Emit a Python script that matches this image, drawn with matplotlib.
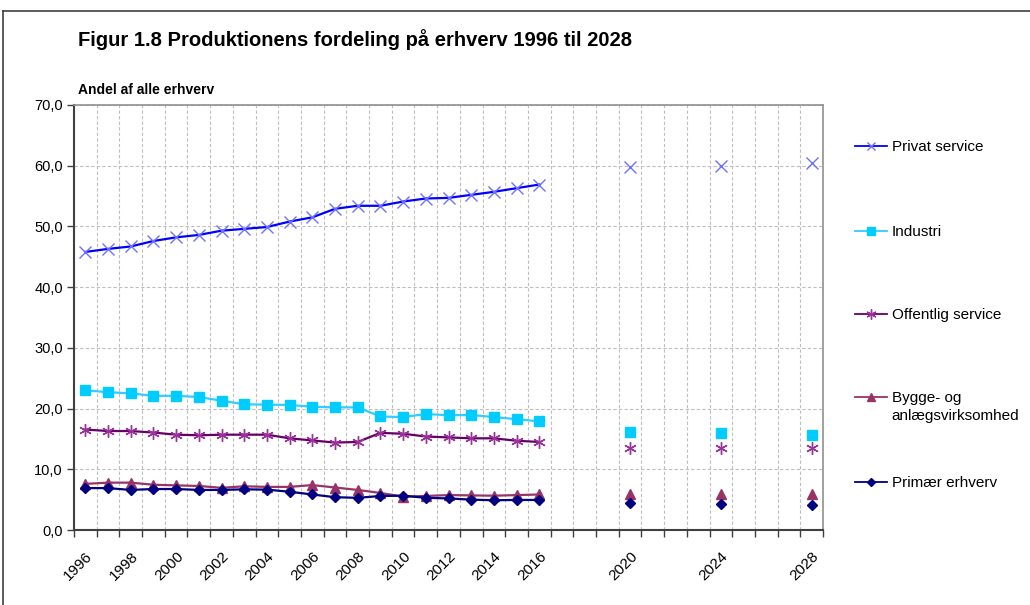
import numpy as np
import matplotlib
matplotlib.use("Agg")
import matplotlib.pyplot as plt
from matplotlib.lines import Line2D
from matplotlib.ticker import FixedLocator, FuncFormatter

plt.rcParams['font.family'] = ['Liberation Sans', 'DejaVu Sans']

# data
years_hist = list(range(1996, 2017))
years_proj = [2020, 2024, 2028]
tick_years = list(range(1996, 2017, 2)) + years_proj

privat = [45.8, 46.3, 46.7, 47.6, 48.2, 48.6, 49.3, 49.6, 49.9, 50.8, 51.5,
          52.9, 53.4, 53.4, 54.1, 54.6, 54.7, 55.2, 55.7, 56.3, 56.9]
privat_proj = [59.8, 60.0, 60.4]

industri = [23.0, 22.7, 22.5, 22.1, 22.1, 21.9, 21.3, 20.7, 20.65, 20.6, 20.3,
            20.2, 20.2, 18.7, 18.6, 19.1, 18.9, 18.95, 18.6, 18.25, 17.9]
industri_proj = [16.2, 15.95, 15.7]

offentlig = [16.55, 16.3, 16.3, 16.05, 15.7, 15.6, 15.7, 15.7, 15.7, 15.1, 14.75,
             14.4, 14.5, 16.0, 15.85, 15.4, 15.25, 15.1, 15.1, 14.7, 14.5]
offentlig_proj = [13.5, 13.5, 13.5]

bygge = [7.6, 7.8, 7.8, 7.45, 7.35, 7.25, 6.95, 7.2, 7.1, 7.1, 7.4,
         7.0, 6.6, 6.1, 5.5, 5.6, 5.75, 5.7, 5.65, 5.75, 5.85]
bygge_proj = [5.9, 5.9, 5.9]

primaer = [6.9, 6.9, 6.6, 6.75, 6.75, 6.6, 6.6, 6.7, 6.65, 6.3, 5.85,
           5.4, 5.3, 5.6, 5.65, 5.3, 5.2, 5.0, 4.9, 4.95, 4.95]
primaer_proj = [4.4, 4.35, 4.2]

series = [
    # label, hist, proj, line colour, marker colour, marker, size
    ("Privat service", privat, privat_proj, "#0000FF", "#7070FF", "x", 8),
    ("Industri", industri, industri_proj, "#33CCFF", "#00CCFF", "s", 7),
    ("Offentlig service", offentlig, offentlig_proj, "#660066", "#993399", (6, 2, 0), 9),
    ("Bygge- og", bygge, bygge_proj, "#993366", "#993366", "^", 6.5),
    ("Primær erhverv", primaer, primaer_proj, "#000080", "#000080", "D", 5.5),
]
# legend rows (pixel y of each entry, from the top)
legend_y = [147, 232, 315, 398, 483]

fig = plt.figure(figsize=(10.3, 6.05), dpi=100)
ax = fig.add_axes([74 / 1030, 1 - 530 / 605, (823 - 74) / 1030, (530 - 105) / 605])

for (label, hist, proj, lc, mc, mk, ms), ly in zip(series, legend_y):
    ax.plot(years_hist, hist, color=lc, lw=1.6, marker=mk, ms=ms,
            mfc=mc, mec=mc, mew=1.0, zorder=3)
    ax.plot(years_proj, proj, ls="none", marker=mk, ms=ms,
            mfc=mc, mec=mc, mew=1.0, zorder=3)
    h = Line2D([], [], color=lc, lw=1.3, marker=mk, ms=ms * 0.8,
               mfc=mc, mec=mc, label=label)
    leg = fig.legend(handles=[h], loc="center left",
                     bbox_to_anchor=(855 / 1030, 1 - ly / 605),
                     frameon=False, fontsize=11, handlelength=2.1,
                     handletextpad=0.3, borderpad=0, borderaxespad=0)
fig.text(891 / 1030, 1 - 416 / 605, "anlægsvirksomhed", fontsize=11,
         va="center", ha="left")

ax.set_xlim(1995.5, 2028.5)
ax.set_ylim(0, 70)
ax.set_yticks(np.arange(0, 71, 10))
ax.yaxis.set_major_formatter(FuncFormatter(lambda v, p: f"{v:.1f}".replace(".", ",")))

ax.xaxis.set_major_locator(FixedLocator(tick_years))
ax.set_xticklabels([str(y) for y in tick_years], rotation=45, ha="right",
                   rotation_mode="anchor")
ax.xaxis.set_minor_locator(FixedLocator(np.arange(1995.5, 2029, 1)))
ax.tick_params(axis="x", which="major", length=0, pad=14, labelsize=11)
ax.tick_params(axis="x", which="minor", length=5, width=1, color="#404040", direction="out")
ax.tick_params(axis="y", length=5, width=1, color="#404040", labelsize=10.5, pad=3)

ax.grid(True, axis="x", which="minor", ls=(0, (3, 2)), color="#BEBEBE", lw=0.8)
ax.grid(True, axis="y", which="major", ls=(0, (3, 2)), color="#BEBEBE", lw=0.8)
ax.set_axisbelow(True)

for s in ["top", "right"]:
    ax.spines[s].set_color("#909090")
    ax.spines[s].set_linewidth(1.2)
for s in ["left", "bottom"]:
    ax.spines[s].set_color("#404040")
    ax.spines[s].set_linewidth(1.5)

fig.text(78 / 1030, 1 - 40 / 605, "Figur 1.8 Produktionens fordeling på erhverv 1996 til 2028",
         fontsize=14.5, fontweight="bold", va="center", ha="left")
fig.text(78 / 1030, 1 - 90 / 605, "Andel af alle erhverv",
         fontsize=10, fontweight="bold", va="center", ha="left")

# outer frame
fig.add_artist(Line2D([3 / 1030, 1], [1 - 11 / 605, 1 - 11 / 605], color="#404040", lw=1.2))
fig.add_artist(Line2D([3 / 1030, 3 / 1030], [0, 1 - 11 / 605], color="#404040", lw=1.2))

fig.savefig("out.png", dpi=100)
